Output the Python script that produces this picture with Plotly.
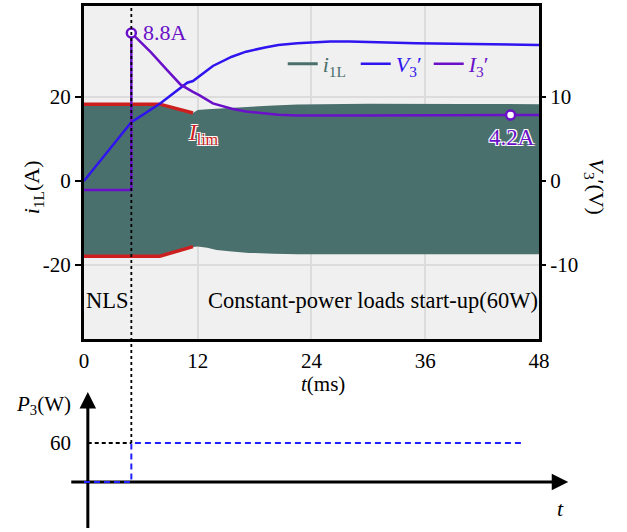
import plotly.graph_objects as go

# ---------------- data ----------------
# i1L envelope (A)
t_env = [0, 8, 11.5, 12, 13, 14, 15.6, 17.4, 20, 22.5, 30, 40, 48]
i1L_upper = [18.1, 18.1, 16.2, 16.9, 17.1, 17.25, 17.4, 17.7, 18.0, 18.2, 18.4, 18.35, 18.3]
i1L_lower = [-17.9, -17.9, -15.7, -15.6, -15.9, -16.4, -16.8, -17.1, -17.3, -17.4, -17.45, -17.4, -17.4]

# current limit I_lim (A)
t_lim = [0, 8, 11.5]
ilim_up = [18.3, 18.3, 16.2]
ilim_dn = [-17.9, -17.9, -15.6]

# V3' (V)
t_v = [0, 5, 8, 10.9, 11.5, 13.6, 15.6, 17.1, 19.1, 20.5, 22.5, 23.8, 26, 28, 30.7, 35, 41, 48]
v3 = [0, 7.0, 9.2, 11.7, 11.9, 13.7, 14.8, 15.4, 15.9, 16.2, 16.4, 16.5, 16.6, 16.6, 16.5, 16.4, 16.3, 16.2]

# I3' (A)
t_i = [0, 5, 5, 5.4, 7.1, 8.8, 10.2, 11.5, 12.2, 13.6, 15.6, 17.1, 19.1, 20.5, 22.5, 24, 30, 36, 45, 48]
i3 = [0, 0, 8.8, 8.6, 7.7, 6.7, 5.9, 5.5, 5.3, 4.85, 4.55, 4.4, 4.28, 4.22, 4.18, 4.17, 4.18, 4.19, 4.2, 4.2]
t_mark = [5, 45]
i3_mark = [8.8, 4.2]

# P3 (W)
t_p = [0, 5, 5, 46.1]
p3 = [0, 0, 60, 60]
t_step = 5
p_step = 60

x_ticks = [0, 12, 24, 36, 48]
yl_ticks = [-20, 0, 20]
yl_labels = ["-20", "0", "20"]
yr_ticks = [-10, 0, 10]
yr_labels = ["-10", "0", "10"]

# ---------------- style ----------------
W, H = 627, 532
FONT = "Liberation Serif"
TEAL = "#4a706d"
RED = "#cc2020"
BLUE = "#2f14f0"
PURPLE = "#6a10c8"
WHITE_OUTLINE = "1px 1px 0 white, -1px -1px 0 white, 1px -1px 0 white, -1px 1px 0 white"


def px(x):
    return x / W


def py(y):
    return (H - y) / H


fig = go.Figure()

# i1L envelope fill
fig.add_trace(go.Scatter(x=t_env, y=i1L_upper, mode="lines", line=dict(width=0, color=TEAL),
                         showlegend=False, hoverinfo="skip"))
fig.add_trace(go.Scatter(x=t_env, y=i1L_lower, mode="lines", line=dict(width=0, color=TEAL),
                         fill="tonexty", fillcolor=TEAL, showlegend=False, hoverinfo="skip"))
# legend proxy for i1L
fig.add_trace(go.Scatter(x=[None], y=[None], mode="lines", line=dict(width=3, color=TEAL),
                         name=f"<span style='color:{TEAL}'><i>i</i><sub>1L</sub></span>"))

# I_lim
fig.add_trace(go.Scatter(x=t_lim, y=ilim_up, mode="lines", line=dict(width=3.5, color=RED), showlegend=False))
fig.add_trace(go.Scatter(x=t_lim, y=ilim_dn, mode="lines", line=dict(width=3.5, color=RED), showlegend=False))

# V3'
fig.add_trace(go.Scatter(x=t_v, y=v3, yaxis="y2", mode="lines", line=dict(width=2.5, color=BLUE),
                         name=f"<span style='color:{BLUE}'><i>V</i><sub>3</sub>′</span>"))
# I3'
fig.add_trace(go.Scatter(x=t_i, y=i3, yaxis="y4", mode="lines", line=dict(width=2.5, color=PURPLE),
                         name=f"<span style='color:{PURPLE}'><i>I</i><sub>3</sub>′</span>"))
fig.add_trace(go.Scatter(x=t_mark, y=i3_mark, yaxis="y4", mode="markers",
                         marker=dict(size=9, color="white", line=dict(width=2.5, color=PURPLE)),
                         showlegend=False))

# P3 step (lower panel)
fig.add_trace(go.Scatter(x=t_p, y=p3, xaxis="x2", yaxis="y3", mode="lines",
                         line=dict(width=2, color="#2020ff", dash="6px,4px"), showlegend=False))

# ---------------- layout ----------------
top_dom = [py(339), py(6)]
bot_dom = [py(530), py(395)]
xdom = [px(81), px(548)]

yl_range = [-37.6, 41.67]
yr_range = [yl_range[0] / 2, yl_range[1] / 2]
y4_range = [-8.35, 10.31]
y3_range = [-73.8, 133.8]

tickfont = dict(family=FONT, size=21, color="black")

fig.update_layout(
    width=W, height=H, autosize=False,
    margin=dict(l=0, r=0, t=0, b=0),
    paper_bgcolor="white", plot_bgcolor="white",
    font=dict(family=FONT, size=21, color="black"),
    xaxis=dict(domain=xdom, range=[0, 48], tickvals=x_ticks, ticks="", showgrid=True,
               gridcolor="#dcdcdc", gridwidth=1.5, zeroline=False, showline=True, mirror=True,
               linecolor="black", linewidth=3, tickfont=tickfont, anchor="y", ticklabelstandoff=1),
    yaxis=dict(domain=top_dom, range=yl_range, tickvals=yl_ticks, ticktext=yl_labels,
               ticks="outside", ticklen=6,
               tickwidth=2, tickcolor="black", showgrid=True, gridcolor="#dcdcdc", gridwidth=1.5,
               zeroline=False, showline=True, mirror=True, linecolor="black", linewidth=3,
               tickfont=tickfont, anchor="x"),
    yaxis2=dict(overlaying="y", side="right", range=yr_range, tickvals=yr_ticks, ticktext=yr_labels,
                ticks="outside",
                ticklen=6, tickwidth=2, tickcolor="black", showgrid=False, zeroline=False,
                showline=False, tickfont=tickfont, anchor="x"),
    yaxis4=dict(overlaying="y", range=y4_range, visible=False, anchor="x"),
    xaxis2=dict(domain=xdom, range=[0, 48], visible=False, anchor="y3"),
    yaxis3=dict(domain=bot_dom, range=y3_range, tickvals=[60], ticks="", showgrid=False,
                zeroline=False, showline=False, tickfont=tickfont, anchor="x2", ticklabelstandoff=12),
    legend=dict(orientation="h", x=px(285), y=py(64), xanchor="left", yanchor="middle",
                bgcolor="rgba(0,0,0,0)", font=dict(family=FONT, size=22), itemwidth=30,
                tracegroupgap=0, traceorder="normal", entrywidth=28, entrywidthmode="pixels"),
    showlegend=True,
)

shapes = []
# top panel background
shapes.append(dict(type="rect", xref="x domain", yref="y domain", x0=0, x1=1, y0=0, y1=1,
                   fillcolor="#f0f0f0", line=dict(width=0), layer="below"))
# vertical dashed line at load step
shapes.append(dict(type="line", xref="x", yref="paper", x0=t_step, x1=t_step, y0=py(443), y1=py(6),
                   line=dict(color="black", width=1.8, dash="3px,3px"), layer="above"))
# horizontal dashed reference at 60 W
shapes.append(dict(type="line", xref="x2", yref="y3", x0=0.4, x1=t_step, y0=p_step, y1=p_step,
                   line=dict(color="black", width=1.8, dash="4px,3px")))
# lower axes lines
shapes.append(dict(type="line", xref="paper", yref="paper", x0=px(68), x1=px(570), y0=py(482), y1=py(482),
                   line=dict(color="black", width=3), layer="below"))
shapes.append(dict(type="line", xref="paper", yref="paper", x0=px(85), x1=px(85), y0=py(528), y1=py(402),
                   line=dict(color="black", width=3), layer="below"))
fig.update_layout(shapes=shapes)


def note(x, y, text, size=21, color="black", angle=0, xanchor="center", shadow=None):
    f = dict(family=FONT, size=size, color=color)
    if shadow:
        f["shadow"] = shadow
    return dict(xref="paper", yref="paper", x=px(x), y=py(y), text=text, textangle=angle,
                showarrow=False, xanchor=xanchor, yanchor="middle", font=f)


ann = []
# arrowheads
ann.append(dict(xref="paper", yref="paper", x=px(578), y=py(482), ax=-18, ay=0,
                showarrow=True, arrowhead=2, arrowsize=1.1,
                arrowwidth=3, arrowcolor="black", text=""))
ann.append(dict(xref="paper", yref="paper", x=px(85), y=py(392), ax=0, ay=18,
                showarrow=True, arrowhead=2, arrowsize=1.1,
                arrowwidth=3, arrowcolor="black", text=""))
# axis titles
ann.append(note(29, 187, "<i>i</i><sub>1L</sub>(A)", angle=-90, size=22))
ann.append(note(605, 187, "<i>V</i><sub>3</sub>′(V)", angle=90, size=22))
ann.append(note(326, 384, "<i>t</i>(ms)"))
ann.append(note(40, 405, "<i>P</i><sub>3</sub>(W)"))
ann.append(note(570, 508, "<i>t</i>", size=22))
# in-plot texts
ann.append(note(105, 300, "NLS", size=22.5))
ann.append(note(549, 300, "Constant-power loads start-up(60W)", xanchor="right", size=22.5))
ann.append(note(140, 33, "8.8A", color=PURPLE, xanchor="left", size=22))
ann.append(note(520, 137, "4.2A", color=PURPLE, shadow=WHITE_OUTLINE, size=23))
ann.append(note(204, 134, "<i>I</i><sub>lim</sub>", size=23, color=RED, shadow=WHITE_OUTLINE))
fig.update_layout(annotations=ann)

fig.write_html("out.html")
